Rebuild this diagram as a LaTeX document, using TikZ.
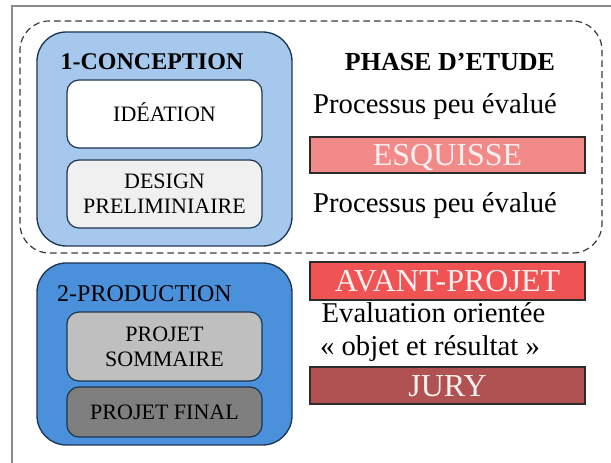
\documentclass[tikz,border=0pt]{standalone}
\usepackage{fontspec}
\setmainfont{Liberation Serif}
\definecolor{framegrey}{HTML}{8A8A8A}
\definecolor{dashgrey}{HTML}{3A3A3A}
\definecolor{panelline}{HTML}{1E3550}
\definecolor{conceptblue}{HTML}{A5C8EC}
\definecolor{prodblue}{HTML}{4A90DB}
\definecolor{designgrey}{HTML}{F0F0F0}
\definecolor{sommairegrey}{HTML}{BFBFBF}
\definecolor{finalgrey}{HTML}{7F7F7F}
\definecolor{esquissered}{HTML}{F38A8A}
\definecolor{avantred}{HTML}{EF5354}
\definecolor{juryred}{HTML}{B05252}
\definecolor{barline}{HTML}{2B2B2B}
\definecolor{bartext}{HTML}{FDF0F0}
\begin{document}
\begin{tikzpicture}[x=0.75pt,y=-0.75pt,
  panel/.style={draw=panelline, line width=1pt, rounded corners=22pt,
    inner sep=0pt, outer sep=0pt, minimum width=191.25pt},
  stagebox/.style={draw=panelline, line width=0.9pt, rounded corners=9pt,
    minimum width=146.25pt, inner sep=0pt, outer sep=0pt, align=center,
    font=\fontsize{16.5}{18.75}\selectfont},
  capsline/.style={text height=10.9pt, text depth=0pt},
  barbox/.style={draw=barline, line width=1pt, minimum width=206.25pt,
    inner sep=0pt, outer sep=0pt, text=bartext, text height=15.8pt, text depth=0pt,
    font=\fontsize{24}{26}\selectfont},
  note/.style={anchor=base, inner sep=0pt, font=\fontsize{21.5}{24}\selectfont},
  heading/.style={anchor=base, inner sep=0pt, font=\bfseries\fontsize{18}{20}\selectfont}]
\useasboundingbox (0,0) rectangle (611,463);

% page frame
\draw[framegrey, line width=1.1pt] (12,463) -- (12,6) -- (611,6);

% study phase enclosure
\node[draw=dashgrey, line width=0.9pt, dash pattern=on 5pt off 3pt,
  rounded corners=22pt, minimum width=436.5pt, minimum height=174pt,
  inner sep=0pt] (etude) at (311,137) {};

% 1 - conception
\node[panel, fill=conceptblue, minimum height=160.5pt] (concept) at (164.5,139) {};
\node[heading] (conceptlbl) at (152,70) {1-CONCEPTION};
\node[stagebox, capsline, fill=white, minimum height=51pt] (ideation) at (164.5,114) {IDÉATION};
\node[stagebox, fill=designgrey, minimum height=51pt] (design) at (164.5,194) {DESIGN\\PRELIMINIAIRE};

% 2 - production
\node[panel, fill=prodblue, minimum height=136.5pt] (prod) at (164.5,354) {};
\node[anchor=base, inner sep=0pt, font=\fontsize{18}{20}\selectfont] (prodlbl) at (144.5,302) {2-PRODUCTION};
\node[stagebox, fill=sommairegrey, minimum height=51.75pt] (sommaire) at (164.5,346.5) {PROJET\\SOMMAIRE};
\node[stagebox, capsline, fill=finalgrey, minimum height=37.5pt] (final) at (164.5,412) {PROJET FINAL};

% right column
\node[heading, font=\bfseries\fontsize{19.5}{22}\selectfont] (phase) at (450,71) {PHASE D’ETUDE};
\node[note] (proc1) at (435,114) {Processus peu évalué};
\node[barbox, fill=esquissered, minimum height=27pt] (esquisse) at (447.5,155) {ESQUISSE};
\node[note] (proc2) at (435,213) {Processus peu évalué};
\node[barbox, fill=avantred, minimum height=28.5pt] (avant) at (447.5,281) {AVANT-PROJET};
\node[note] (eval1) at (433.5,323) {Evaluation orientée};
\node[note] (eval2) at (430,356) {« objet et résultat »};
\node[barbox, fill=juryred, minimum height=27.75pt] (jury) at (447.5,385.5) {JURY};
\end{tikzpicture}
\end{document}
